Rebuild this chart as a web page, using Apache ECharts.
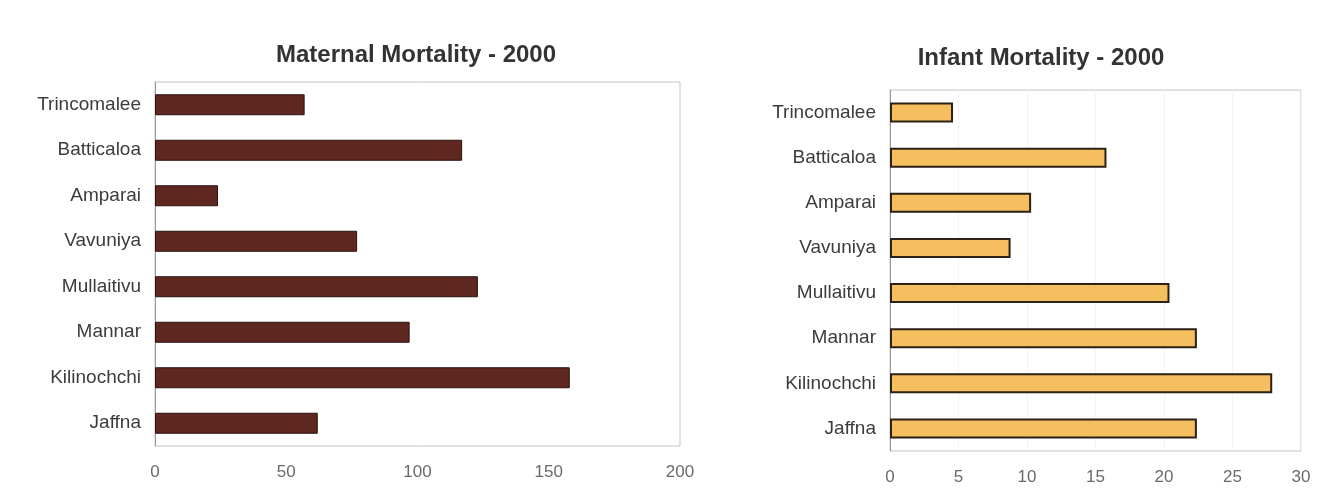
<!DOCTYPE html>
<html>
<head>
<meta charset="utf-8">
<script src="https://cdn.jsdelivr.net/npm/echarts@6/dist/echarts.min.js"></script>
<style>
  html, body { margin: 0; padding: 0; background: #ffffff; }
  #chart { width: 1330px; height: 502px; }
</style>
</head>
<body>
<div id="chart"></div>
<script>
// Districts, listed top to bottom
const districts = ['Trincomalee', 'Batticaloa', 'Amparai', 'Vavuniya', 'Mullaitivu', 'Mannar', 'Kilinochchi', 'Jaffna'];

// Maternal mortality, 2000
const maternalMortality = [57, 117, 24, 77, 123, 97, 158, 62];

// Infant mortality, 2000
const infantMortality = [4.6, 15.8, 10.3, 8.8, 20.4, 22.4, 27.9, 22.4];

const maternalTitle = 'Maternal Mortality - 2000';
const infantTitle = 'Infant Mortality - 2000';

const FONT = '"Liberation Sans", Arial, sans-serif';

const chart = echarts.init(document.getElementById('chart'), null, { renderer: 'canvas' });

function categoryAxis(gridIndex) {
  return {
    type: 'category',
    gridIndex: gridIndex,
    data: districts,
    inverse: true,
    axisLine: { show: true, lineStyle: { color: '#9a9a9a', width: 1 } },
    axisTick: { show: false },
    axisLabel: { color: '#3c3c3c', fontSize: 19, fontFamily: FONT, margin: 14 },
    splitLine: { show: false }
  };
}

function valueAxis(gridIndex, max, interval, gridLines) {
  return {
    type: 'value',
    gridIndex: gridIndex,
    min: 0,
    max: max,
    interval: interval,
    axisLine: { show: false },
    axisTick: { show: false },
    axisLabel: { color: '#6a6a6a', fontSize: 17, fontFamily: FONT, margin: 18 },
    splitLine: { show: gridLines, lineStyle: { color: '#f4f4f4', width: 1 } }
  };
}

chart.setOption({
  backgroundColor: '#ffffff',
  animation: false,
  title: [
    {
      text: maternalTitle,
      left: 411, top: 38, textAlign: 'center',
      textStyle: { fontFamily: FONT, fontSize: 24, fontWeight: 'bold', color: '#333333' }
    },
    {
      text: infantTitle,
      left: 1036, top: 41, textAlign: 'center',
      textStyle: { fontFamily: FONT, fontSize: 24, fontWeight: 'bold', color: '#333333' }
    }
  ],
  grid: [
    { left: 155, top: 82, width: 525, height: 364, show: true, borderColor: '#c4c4c4', borderWidth: 1, backgroundColor: '#ffffff' },
    { left: 890, top: 90, width: 411, height: 361, show: true, borderColor: '#c4c4c4', borderWidth: 1, backgroundColor: '#ffffff' }
  ],
  yAxis: [categoryAxis(0), categoryAxis(1)],
  xAxis: [valueAxis(0, 200, 50, false), valueAxis(1, 30, 5, true)],
  series: [
    {
      type: 'bar',
      xAxisIndex: 0, yAxisIndex: 0,
      data: maternalMortality,
      barWidth: 21,
      itemStyle: { color: '#5e2720', borderColor: '#2a120e', borderWidth: 1 }
    },
    {
      type: 'bar',
      xAxisIndex: 1, yAxisIndex: 1,
      data: infantMortality,
      barWidth: 20,
      itemStyle: { color: '#f5bf60', borderColor: '#2b2114', borderWidth: 2 }
    }
  ]
});
</script>
</body>
</html>
